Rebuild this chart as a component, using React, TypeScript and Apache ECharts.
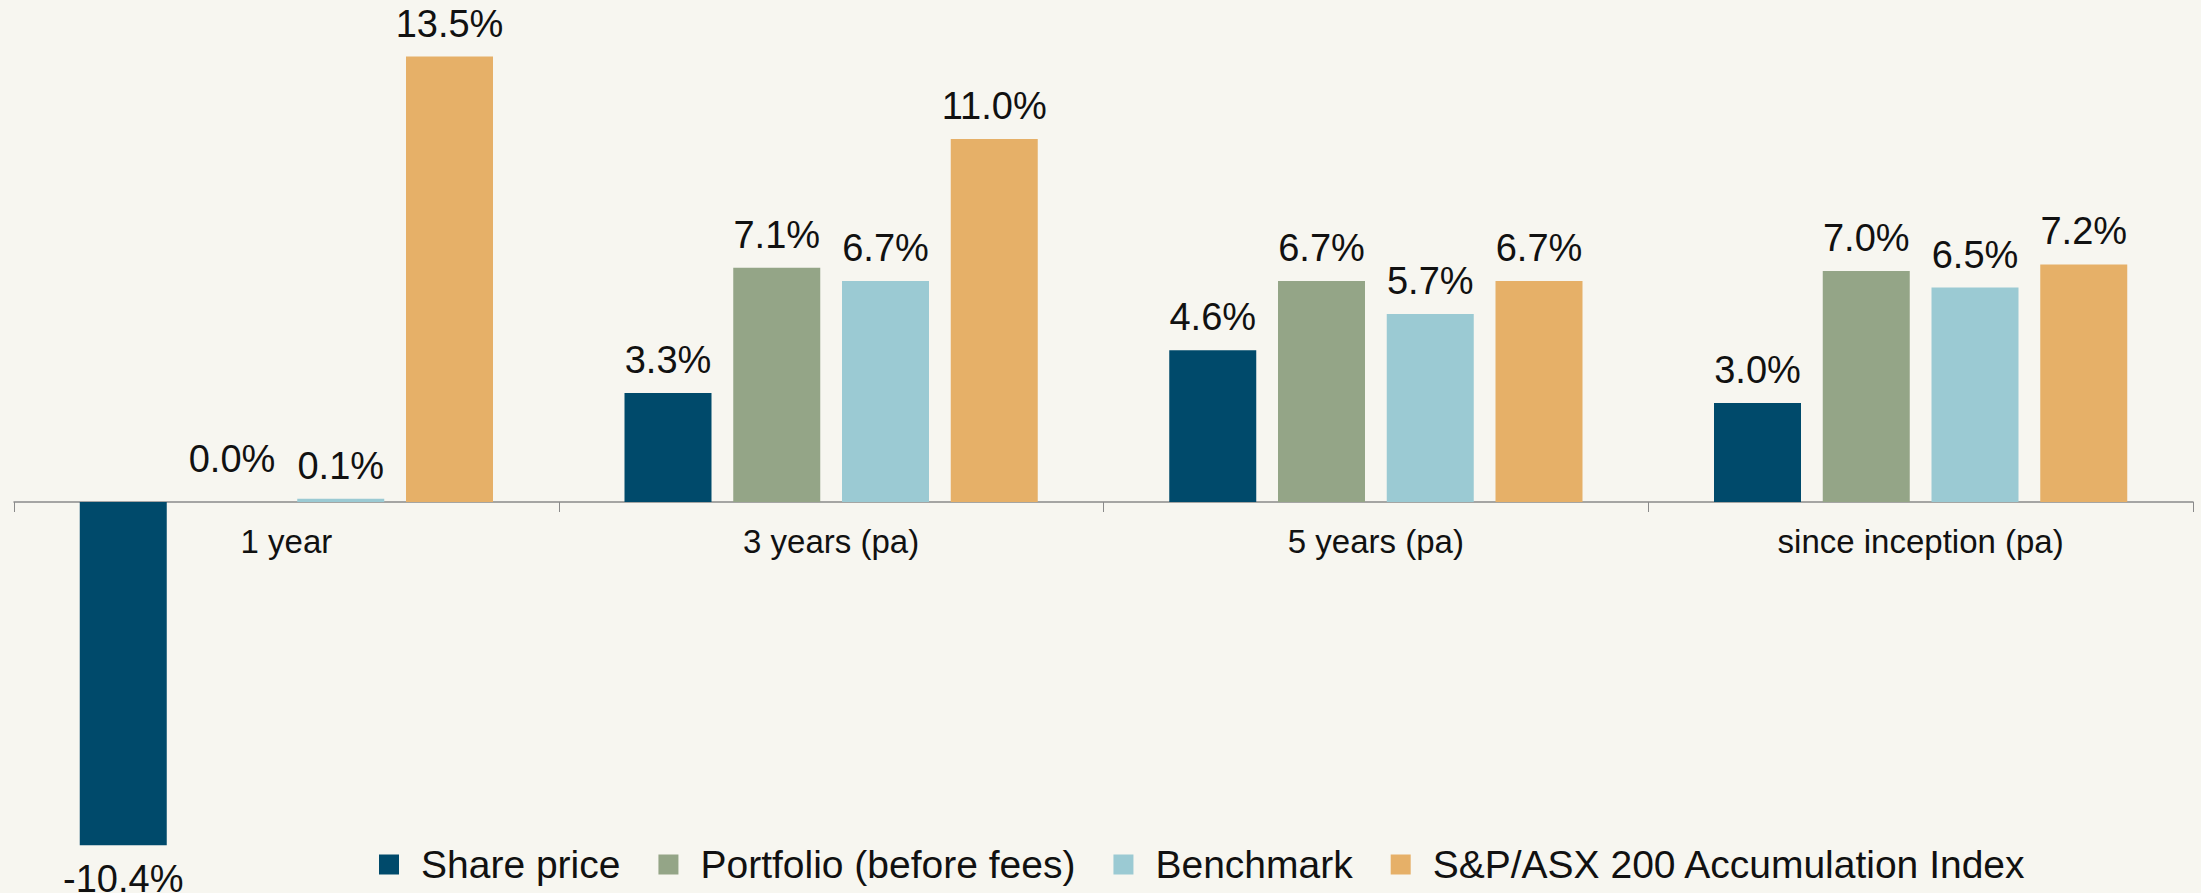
import React, { useEffect, useRef } from "react";
import * as echarts from "echarts";

const categories = ["1 year", "3 years (pa)", "5 years (pa)", "since inception (pa)"];
const seriesNames = ["Share price", "Portfolio (before fees)", "Benchmark", "S&P/ASX 200 Accumulation Index"];
const sharePrice = [-10.4, 3.3, 4.6, 3.0];
const portfolio = [0.0, 7.1, 6.7, 7.0];
const benchmark = [0.1, 6.7, 5.7, 6.5];
const asx200 = [13.5, 11.0, 6.7, 7.2];
const colors = ["#004A6B", "#94A587", "#9BCAD3", "#E6B068"];

const FONT = "'Liberation Sans', Arial, sans-serif";
const Y_MIN = -11;
const Y_MAX = 14;

export default function App() {
  const ref = useRef<HTMLDivElement>(null);
  useEffect(() => {
    document.body.style.margin = "0";
    const chart = echarts.init(ref.current!, null, { renderer: "svg" });
    const allSeries = [sharePrice, portfolio, benchmark, asx200];
    const top = 40;
    const bottom = 28;
    const plotH = 893 - top - bottom;
    const zeroH = (plotH * Y_MAX) / (Y_MAX - Y_MIN);
    chart.setOption({
      animation: false,
      backgroundColor: "#F7F6F0",
      textStyle: { fontFamily: FONT },
      grid: [
        { left: 14, right: 8, top, bottom, containLabel: false, outerBoundsMode: "none" },
        { left: 14, right: 8, top, height: zeroH, containLabel: false, outerBoundsMode: "none" },
      ],
      legend: {
        left: 379,
        top: 845,
        padding: 0,
        icon: "rect",
        itemWidth: 20,
        itemHeight: 20,
        itemGap: 38,
        textStyle: { fontSize: 39, color: "#111", fontFamily: FONT, padding: [0, 0, 0, 17] },
        data: seriesNames,
      },
      xAxis: [
        {
          type: "category",
          gridIndex: 0,
          data: categories,
          show: false,
        },
        {
          type: "category",
          gridIndex: 1,
          data: categories,
          axisLine: { onZero: false, lineStyle: { color: "#8a8a8a", width: 1.5 } },
          axisTick: { show: true, length: 10, lineStyle: { color: "#8a8a8a" } },
          axisLabel: { fontSize: 33, color: "#111", margin: 23, fontFamily: FONT },
        },
      ],
      yAxis: [
        { type: "value", gridIndex: 0, min: Y_MIN, max: Y_MAX, show: false, splitLine: { show: false } },
        { type: "value", gridIndex: 1, min: 0, max: 1, show: false, splitLine: { show: false } },
      ],
      series: allSeries.map((vals, i) => ({
        name: seriesNames[i],
        type: "bar",
        xAxisIndex: 0,
        yAxisIndex: 0,
        barWidth: 87,
        barGap: "25%",
        itemStyle: { color: colors[i] },
        label: {
          show: true,
          position: "top",
          distance: 14,
          fontSize: 38,
          color: "#111",
          fontFamily: FONT,
          formatter: (p: any) => Number(p.value).toFixed(1) + "%",
        },
        data: vals.map((v) =>
          v < 0
            ? { value: v, label: { position: "bottom", distance: 15 } }
            : v === 0
            ? { value: v, label: { distance: 24 } }
            : v
        ),
      })),
    });
    return () => chart.dispose();
  }, []);
  return <div ref={ref} style={{ width: 2201, height: 893 }} />;
}
